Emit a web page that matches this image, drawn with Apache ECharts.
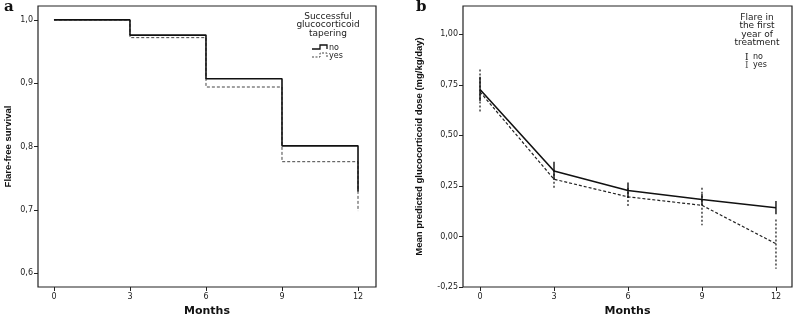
<!DOCTYPE html>
<html>
<head>
<meta charset="utf-8">
<script src="https://cdn.jsdelivr.net/npm/echarts@6/dist/echarts.min.js"></script>
<style>
html, body { margin: 0; padding: 0; background: #fff; }
#main { width: 794px; height: 316px; }
</style>
</head>
<body>
<div id="main"></div>
<script>
var months = [0, 3, 6, 9, 12];
// panel a: Kaplan-Meier flare-free survival
var survNo = [1.0, 0.976, 0.907, 0.801, 0.729];
var survYes = [1.0, 0.972, 0.894, 0.776, 0.698];
var survTicks = [0.6, 0.7, 0.8, 0.9, 1.0];
// panel b: mean predicted glucocorticoid dose with error bars
var doseNo = [0.727, 0.324, 0.227, 0.183, 0.142];
var doseNoLow = [0.67, 0.28, 0.19, 0.155, 0.11];
var doseNoHigh = [0.79, 0.37, 0.267, 0.21, 0.176];
var doseYes = [0.715, 0.283, 0.196, 0.154, -0.036];
var doseYesLow = [0.612, 0.234, 0.146, 0.055, -0.16];
var doseYesHigh = [0.826, 0.33, 0.24, 0.241, 0.084];
var doseTicks = [-0.25, 0, 0.25, 0.5, 0.75, 1.0];

var myChart = echarts.init(document.getElementById('main'));
var font = 'DejaVu Sans';

function pairs(xs, ys) {
    return xs.map(function (x, i) { return [x, ys[i]]; });
}
function bars(xs, lo, hi) {
    return xs.map(function (x, i) { return [x, lo[i], hi[i]]; });
}
function errorBar(dashed) {
    return function (params, api) {
        var top = api.coord([api.value(0), api.value(2)]);
        var bot = api.coord([api.value(0), api.value(1)]);
        return {
            type: 'line',
            shape: { x1: top[0], y1: top[1], x2: bot[0], y2: bot[1] },
            style: { stroke: '#111', lineWidth: dashed ? 1.2 : 1.4, lineDash: dashed ? [2, 2] : null }
        };
    };
}

var axisLabelStyle = { color: '#222', fontSize: 8, fontFamily: font };
var nameStyle = { fontWeight: 'bold', fontSize: 11, fontFamily: font, color: '#111' };
var yNameStyle = { fontWeight: 'bold', fontSize: 9.5, fontFamily: 'Liberation Sans', color: '#111' };

var option = {
    backgroundColor: '#fff',
    animation: false,
    grid: [
        { left: 38, top: 6, width: 338, height: 281, show: true, borderColor: '#222', borderWidth: 1.2, outerBoundsMode: 'none', containLabel: false },
        { left: 463, top: 6, width: 329, height: 281, show: true, borderColor: '#222', borderWidth: 1.2, outerBoundsMode: 'none', containLabel: false }
    ],
    xAxis: [{
        gridIndex: 0, type: 'value', min: -0.63, max: 12.71,
        axisLine: { show: false, onZero: false }, splitLine: { show: false },
        axisTick: { show: true, length: 4, lineStyle: { color: '#222' }, customValues: months },
        axisLabel: Object.assign({ customValues: months, margin: 6 }, axisLabelStyle),
        name: 'Months', nameLocation: 'middle', nameGap: 19, nameTextStyle: nameStyle
    }, {
        gridIndex: 1, type: 'value', min: -0.69, max: 12.65,
        axisLine: { show: false, onZero: false }, splitLine: { show: false },
        axisTick: { show: true, length: 4, lineStyle: { color: '#222' }, customValues: months },
        axisLabel: Object.assign({ customValues: months, margin: 6 }, axisLabelStyle),
        name: 'Months', nameLocation: 'middle', nameGap: 19, nameTextStyle: nameStyle
    }],
    yAxis: [{
        gridIndex: 0, type: 'value', min: 0.578, max: 1.022,
        axisLine: { show: false, onZero: false }, splitLine: { show: false },
        axisTick: { show: true, length: 4, lineStyle: { color: '#222' }, customValues: survTicks },
        axisLabel: Object.assign({
            customValues: survTicks, margin: 5,
            formatter: function (v) { return v.toFixed(1).replace('.', ','); }
        }, axisLabelStyle),
        name: 'Flare-free survival', nameLocation: 'middle', nameGap: 25, nameTextStyle: yNameStyle
    }, {
        gridIndex: 1, type: 'value', min: -0.25, max: 1.14,
        axisLine: { show: false, onZero: false }, splitLine: { show: false },
        axisTick: { show: true, length: 4, lineStyle: { color: '#222' }, customValues: doseTicks },
        axisLabel: Object.assign({
            customValues: doseTicks, margin: 5,
            formatter: function (v) { return v.toFixed(2).replace('.', ','); }
        }, axisLabelStyle),
        name: 'Mean predicted glucocorticoid dose (mg/kg/day)', nameLocation: 'middle', nameGap: 39, nameTextStyle: yNameStyle
    }],
    series: [{
        name: 'no', type: 'line', step: 'end', xAxisIndex: 0, yAxisIndex: 0,
        data: pairs(months, survNo), symbol: 'none',
        lineStyle: { color: '#111', width: 1.6 }, z: 3
    }, {
        name: 'yes', type: 'line', step: 'end', xAxisIndex: 0, yAxisIndex: 0,
        data: pairs(months, survYes), symbol: 'none',
        lineStyle: { color: '#444', width: 1, type: [3, 2] }, z: 2
    }, {
        name: 'dose no', type: 'line', xAxisIndex: 1, yAxisIndex: 1,
        data: pairs(months, doseNo), symbol: 'none',
        lineStyle: { color: '#111', width: 1.6 }, z: 3
    }, {
        name: 'dose yes', type: 'line', xAxisIndex: 1, yAxisIndex: 1,
        data: pairs(months, doseYes), symbol: 'none',
        lineStyle: { color: '#222', width: 1.2, type: [3, 2] }, z: 2
    }, {
        type: 'custom', xAxisIndex: 1, yAxisIndex: 1,
        data: bars(months, doseNoLow, doseNoHigh), renderItem: errorBar(false), z: 4
    }, {
        type: 'custom', xAxisIndex: 1, yAxisIndex: 1,
        data: bars(months, doseYesLow, doseYesHigh), renderItem: errorBar(true), z: 4
    }],
    graphic: [
        { type: 'text', left: 4, top: 0, style: { text: 'a', font: 'bold 15px "DejaVu Serif"', fill: '#111' } },
        { type: 'text', left: 416, top: 0, style: { text: 'b', font: 'bold 15px "DejaVu Serif"', fill: '#111' } },
        // legend a
        { type: 'text', x: 328, y: 12, style: { text: 'Successful\nglucocorticoid\ntapering', font: '9px "DejaVu Sans"', fill: '#222', align: 'center', lineHeight: 8.5 } },
        { type: 'polyline', shape: { points: [[312, 49], [320, 49], [320, 45], [327, 45], [327, 49]] }, style: { stroke: '#111', lineWidth: 1.3, fill: null } },
        { type: 'text', x: 329, y: 44, style: { text: 'no', font: '8px "DejaVu Sans"', fill: '#222' } },
        { type: 'polyline', shape: { points: [[312, 57], [320, 57], [320, 53], [327, 53], [327, 57]] }, style: { stroke: '#444', lineWidth: 1, lineDash: [2, 1.5], fill: null } },
        { type: 'text', x: 329, y: 52, style: { text: 'yes', font: '8px "DejaVu Sans"', fill: '#222' } },
        // legend b
        { type: 'text', x: 757, y: 13, style: { text: 'Flare in\nthe first\nyear of\ntreatment', font: '9px "DejaVu Sans"', fill: '#222', align: 'center', lineHeight: 8.5 } },
        { type: 'text', x: 745, y: 53, style: { text: 'I', font: '9px "DejaVu Serif"', fill: '#111' } },
        { type: 'text', x: 753, y: 53, style: { text: 'no', font: '8px "DejaVu Sans"', fill: '#222' } },
        { type: 'text', x: 745, y: 61, style: { text: 'I', font: '9px "DejaVu Serif"', fill: '#555' } },
        { type: 'text', x: 753, y: 61, style: { text: 'yes', font: '8px "DejaVu Sans"', fill: '#222' } }
    ]
};
myChart.setOption(option);
</script>
</body>
</html>
